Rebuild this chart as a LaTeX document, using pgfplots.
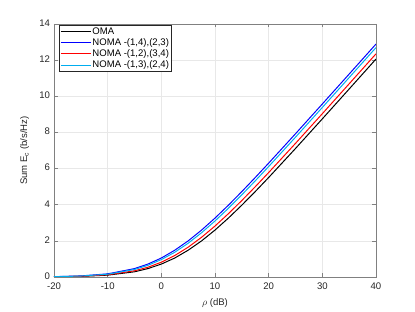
\documentclass[border=0pt]{standalone}
\usepackage{fontspec}
\setmainfont{Liberation Sans}
\usepackage{pgfplots}
\pgfplotsset{compat=1.18}

% sum rate vs rho
\pgfplotstableread{
x     oma      n1423    n1234    n1324
-20   0.0109   0.0192   0.0133   0.0168
-15   0.0339   0.0592   0.0412   0.0520
-10   0.1023   0.1739   0.1234   0.1541
-5    0.2886   0.4643   0.3427   0.4155
-2.5  0.4646   0.7150   0.5396   0.6449
0     0.7154   1.0499   0.8195   0.9630
2.5   1.0504   1.4820   1.1881   1.3693
5     1.4827   1.9978   1.6496   1.8683
7.5   1.9984   2.5962   2.1974   2.4494
10    2.5972   3.2601   2.8208   3.0995
12.5  3.2609   3.9743   3.5039   3.8033
15    3.9757   4.7267   4.2328   4.5475
17.5  4.7276   5.5050   4.9951   5.3206
20    5.5061   6.3010   5.7805   6.1134
25    7.1114   7.9269   7.3941   7.7352
30    8.7506   9.5742   9.0366   9.3810
35    10.4028  11.2298  10.6905  11.0359
40    12.0608  12.8889  12.3486  12.6948
}\rates

\definecolor{axgray}{RGB}{128,128,128}
\definecolor{txtgray}{RGB}{38,38,38}

\begin{document}
\begin{tikzpicture}
\path[use as bounding box] (0,0) rectangle (415bp,312bp);
\begin{axis}[at={(54bp,35bp)},anchor=south west,
  width=322bp,height=253bp,scale only axis,
  xmin=-20,xmax=40,ymin=0,ymax=14,
  xtick={-20,-10,...,40},ytick={0,2,...,14},
  font=\fontsize{9.6}{11}\selectfont,
  /pgf/number format/assume math mode=true,
  tick label style={text=txtgray},
  axis line style={axgray,line width=0.6pt},
  tick style={axgray,line width=0.6pt},
  major tick length=3.5bp,
  tick align=inside,
  grid=major,
  major grid style={gray!18,line width=0.5pt},
  xticklabel style={yshift=-2.5bp},
  yticklabel style={xshift=-0.5bp,yshift=1bp},
  xlabel={$\rho$ (dB)},
  ylabel={Sum E\textsubscript{c} (b/s/Hz)},
  x label style={at={(axis description cs:0.5,-0.103)},anchor=center,text=txtgray},
  y label style={at={(axis description cs:-0.091,0.5)},anchor=center,rotate=0,text=txtgray},
  legend cell align=left,
  legend style={at={(axis description cs:0.0155,0.996)},anchor=north west,
    draw=txtgray,line width=0.5pt,fill=white,
    font=\fontsize{9.6}{11}\selectfont,
    inner sep=1.2bp,row sep=0.8bp,
    nodes={inner sep=1bp,text=black}},
  legend image code/.code={\draw[#1] (0bp,0bp) -- (30bp,0bp);},
  every axis plot/.append style={line width=1pt}
]
\addplot[black] table[x=x,y=oma] {\rates};
\addlegendentry{OMA}
\addplot[blue] table[x=x,y=n1423] {\rates};
\addlegendentry{NOMA -(1,4),(2,3)}
\addplot[red] table[x=x,y=n1234] {\rates};
\addlegendentry{NOMA -(1,2),(3,4)}
\addplot[cyan] table[x=x,y=n1324] {\rates};
\addlegendentry{NOMA -(1,3),(2,4)}
\end{axis}
\end{tikzpicture}
\end{document}
